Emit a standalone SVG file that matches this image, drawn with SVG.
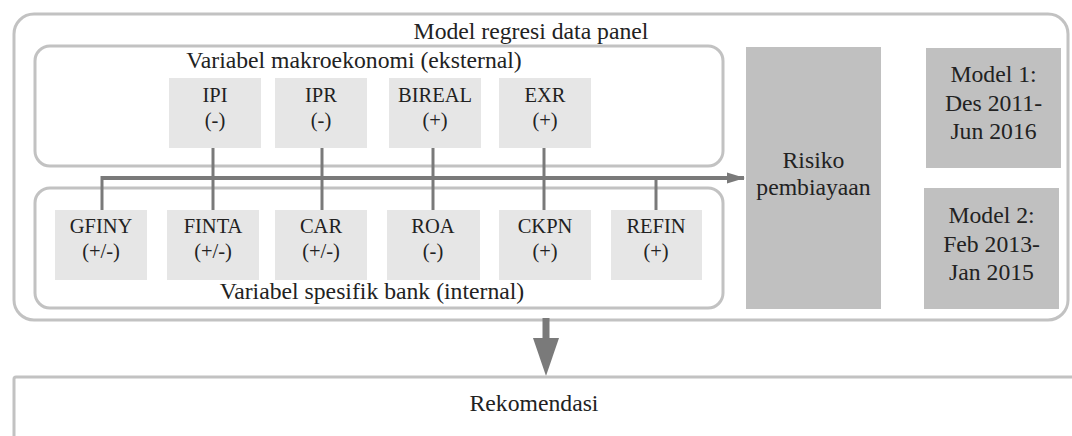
<svg xmlns="http://www.w3.org/2000/svg" width="1072" height="436" viewBox="0 0 1072 436">
<defs>
<style>
.frame{fill:none;stroke:#c2c2c2;stroke-width:3}
.small{fill:#e6e6e6}
.big{fill:#c0c0c0}
text{font-family:"Liberation Serif","Times New Roman",serif;fill:#222;text-anchor:middle}
.lg{font-size:23.7px}
.sm{font-size:20.5px}
.conn{stroke:#7a7a7a;fill:none}
</style>
<marker id="ah" markerWidth="18" markerHeight="12" refX="17" refY="6" orient="auto" markerUnits="userSpaceOnUse">
<path d="M0,0.5 L18,6 L0,11.5 Z" fill="#7a7a7a"/>
</marker>
</defs>
<rect width="1072" height="436" fill="#fff"/>

<g id="panel">
<rect class="frame" x="14" y="14" width="1054" height="306" rx="20"/>
<text class="lg" x="531" y="39">Model regresi data panel</text>
</g>

<g id="makro">
<rect class="frame" x="35" y="46" width="688" height="120" rx="15"/>
<text class="lg" x="354" y="68">Variabel makroekonomi (eksternal)</text>
</g>

<g id="internal">
<rect class="frame" x="35" y="188" width="688" height="120" rx="15"/>
<text class="lg" x="372" y="299">Variabel spesifik bank (internal)</text>
</g>

<g id="connectors">
<line class="conn" x1="102" y1="178" x2="744" y2="178" stroke-width="4" marker-end="url(#ah)"/>
<g stroke-width="3">
<line class="conn" x1="213" y1="148" x2="213" y2="210"/>
<line class="conn" x1="322" y1="148" x2="322" y2="210"/>
<line class="conn" x1="433" y1="148" x2="433" y2="210"/>
<line class="conn" x1="544" y1="148" x2="544" y2="210"/>
<line class="conn" x1="102" y1="176" x2="102" y2="210"/>
<line class="conn" x1="656" y1="178" x2="656" y2="210"/>
</g>
<rect x="542.5" y="318" width="7" height="22" fill="#7a7a7a"/>
<polygon points="533,338 559,338 546,376" fill="#7a7a7a"/>
</g>

<g id="IPI"><rect class="small" x="169" y="78" width="92" height="70"/><text class="sm" x="215" y="102">IPI</text><text class="sm" x="215" y="127">(-)</text></g>
<g id="IPR"><rect class="small" x="275" y="78" width="92" height="70"/><text class="sm" x="321" y="102">IPR</text><text class="sm" x="321" y="127">(-)</text></g>
<g id="BIREAL"><rect class="small" x="389" y="78" width="92" height="70"/><text class="sm" x="435" y="102">BIREAL</text><text class="sm" x="435" y="127">(+)</text></g>
<g id="EXR"><rect class="small" x="499" y="78" width="92" height="70"/><text class="sm" x="545" y="102">EXR</text><text class="sm" x="545" y="127">(+)</text></g>

<g id="GFINY"><rect class="small" x="55" y="210" width="92" height="70"/><text class="sm" x="101" y="233">GFINY</text><text class="sm" x="101" y="258">(+/-)</text></g>
<g id="FINTA"><rect class="small" x="167" y="210" width="92" height="70"/><text class="sm" x="213" y="233">FINTA</text><text class="sm" x="213" y="258">(+/-)</text></g>
<g id="CAR"><rect class="small" x="275" y="210" width="92" height="70"/><text class="sm" x="321" y="233">CAR</text><text class="sm" x="321" y="258">(+/-)</text></g>
<g id="ROA"><rect class="small" x="387" y="210" width="93" height="70"/><text class="sm" x="433" y="233">ROA</text><text class="sm" x="433" y="258">(-)</text></g>
<g id="CKPN"><rect class="small" x="499" y="210" width="92" height="70"/><text class="sm" x="545" y="233">CKPN</text><text class="sm" x="545" y="258">(+)</text></g>
<g id="REFIN"><rect class="small" x="611" y="210" width="91" height="70"/><text class="sm" x="656" y="233">REFIN</text><text class="sm" x="656" y="258">(+)</text></g>

<g id="risiko"><rect class="big" x="746" y="47" width="135" height="262"/><text class="lg" x="813.5" y="168">Risiko</text><text class="lg" x="813.5" y="195">pembiayaan</text></g>

<g id="model1"><rect class="big" x="926" y="48" width="135" height="120"/><text class="lg" x="993.5" y="82">Model 1:</text><text class="lg" x="993.5" y="111">Des 2011-</text><text class="lg" x="993.5" y="139">Jun 2016</text></g>
<g id="model2"><rect class="big" x="924" y="188" width="135" height="121"/><text class="lg" x="991.5" y="223">Model 2:</text><text class="lg" x="991.5" y="252">Feb 2013-</text><text class="lg" x="991.5" y="280">Jan 2015</text></g>

<g id="rekomendasi">
<rect class="frame" x="14" y="377" width="1070" height="80" rx="2"/>
<text class="lg" x="534" y="411">Rekomendasi</text>
</g>
</svg>
